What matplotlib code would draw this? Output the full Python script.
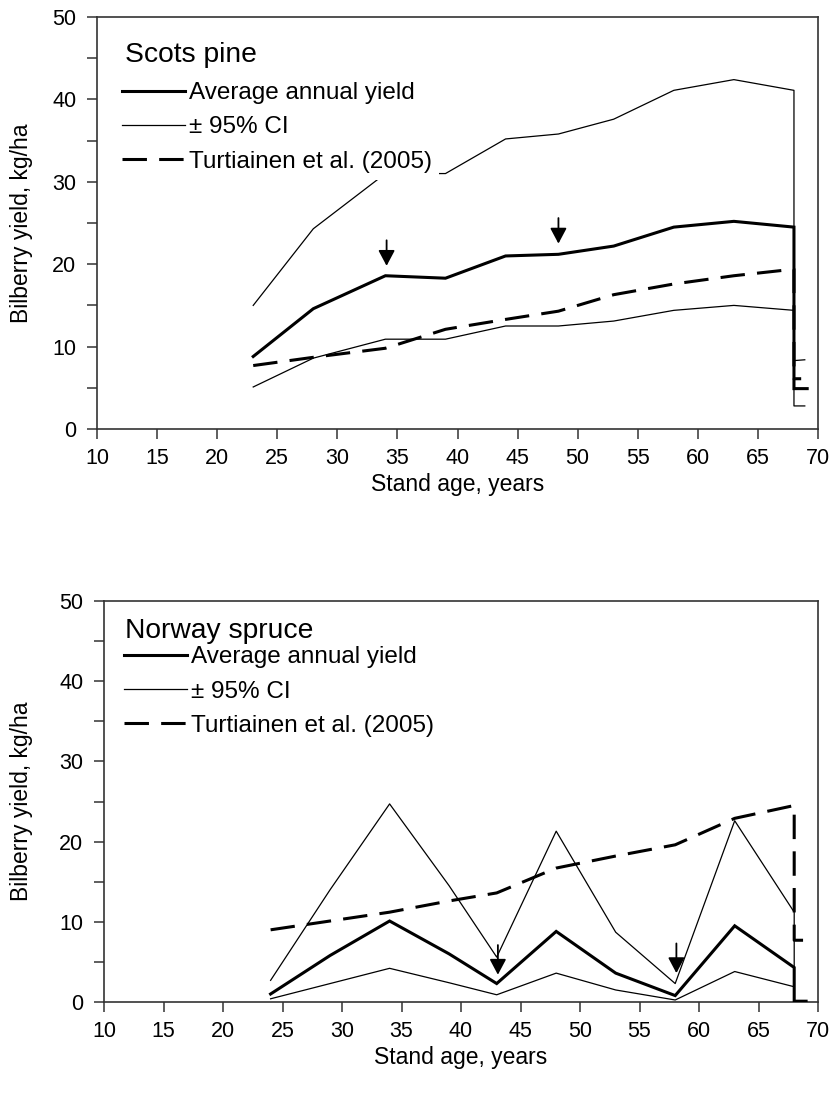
import matplotlib
matplotlib.use("Agg")
import matplotlib.pyplot as plt
from matplotlib.ticker import MultipleLocator

plt.rcParams['font.family'] = ['Liberation Sans', 'DejaVu Sans']

# ---------------- data: Scots pine ----------------
pine_age = [23, 28, 34, 39, 44, 48.4, 53, 58, 63, 68]
pine_mean = [8.8, 14.6, 18.6, 18.3, 21.0, 21.2, 22.2, 24.5, 25.2, 24.5]
pine_upper = [15.0, 24.3, 31.0, 31.0, 35.2, 35.8, 37.6, 41.1, 42.4, 41.1]
pine_lower = [5.1, 8.6, 10.9, 10.9, 12.5, 12.5, 13.1, 14.4, 15.0, 14.4]
pine_turt = [7.7, 8.7, 9.8, 12.1, 13.3, 14.3, 16.3, 17.6, 18.6, 19.4]
# trailing artefact segments at the right edge
pine_mean_tail_x, pine_mean_tail_y = [68, 69.1], [4.9, 4.9]
pine_upper_tail_x, pine_upper_tail_y = [68, 68.9], [2.8, 2.8]
pine_lower_tail_x, pine_lower_tail_y = [68, 68.9], [8.3, 8.4]
pine_turt_tail_x, pine_turt_tail_y = [68, 68.6], [6.1, 6.1]
pine_arrow_x = [34.1, 48.4]
pine_arrow_tip = [19.8, 22.5]
pine_arrow_top = [22.9, 25.6]

# ---------------- data: Norway spruce ----------------
spruce_age = [24, 29, 34, 39, 43, 48, 53, 58, 63, 68]
spruce_mean = [1.0, 5.8, 10.1, 6.0, 2.3, 8.8, 3.6, 0.8, 9.5, 4.3]
spruce_upper = [2.7, 14.0, 24.7, 14.5, 5.6, 21.3, 8.7, 2.3, 22.6, 11.2]
spruce_lower = [0.4, 2.3, 4.2, 2.4, 0.9, 3.6, 1.5, 0.25, 3.8, 1.9]
spruce_turt = [9.0, 10.1, 11.2, 12.6, 13.6, 16.7, 18.2, 19.6, 22.9, 24.5]
spruce_mean_tail_x, spruce_mean_tail_y = [68, 69], [0.1, 0.1]
spruce_upper_tail_x, spruce_upper_tail_y = [68], [0.1]
spruce_lower_tail_x, spruce_lower_tail_y = [68], [0.1]
spruce_turt_tail_x, spruce_turt_tail_y = [68, 69.2], [7.7, 7.7]
spruce_arrow_x = [43.1, 58.1]
spruce_arrow_tip = [3.4, 3.6]
spruce_arrow_top = [7.1, 7.3]

legend_labels = ["Average annual yield", "\u00b1 95% CI", "Turtiainen et al. (2005)"]

W, H = 832, 1094
fig = plt.figure(figsize=(W / 100, H / 100), dpi=100)

ax1 = fig.add_axes([97 / W, 1 - 429 / H, (818 - 97) / W, (429 - 17) / H])
ax2 = fig.add_axes([104 / W, 1 - 1002 / H, (818 - 104) / W, (1002 - 601) / H])

spine_col = '#333333'
THICK = 2.2
THIN = 0.9


def panel(ax, title, age, mean, upper, lower, turt, tails, arrows, title_pos, leg_pos):
    (mx, my), (ux, uy), (lx, ly), (tx, ty) = tails
    ax.plot(list(age) + mx, list(mean) + my, color='black', lw=THICK,
            solid_joinstyle='miter', label=legend_labels[0], zorder=3)
    ax.plot(list(age) + ux, list(upper) + uy, color='black', lw=THIN,
            label=legend_labels[1], zorder=2)
    ax.plot(list(age) + lx, list(lower) + ly, color='black', lw=THIN, zorder=2)
    ax.plot(list(age) + tx, list(turt) + ty, color='black', lw=THICK,
            dashes=(8, 4), label=legend_labels[2], zorder=2)
    for x, tip, top in zip(*arrows):
        ax.annotate('', xy=(x, tip), xytext=(x, top),
                    arrowprops=dict(arrowstyle='-|>,head_length=0.47,head_width=0.25',
                                    mutation_scale=20, lw=1.3, color='black',
                                    shrinkA=0, shrinkB=0), zorder=4)

    ax.set_xlim(10, 70)
    ax.set_ylim(0, 50)
    ax.xaxis.set_major_locator(MultipleLocator(5))
    ax.yaxis.set_major_locator(MultipleLocator(10))
    ax.yaxis.set_minor_locator(MultipleLocator(5))
    ax.tick_params(axis='both', which='both', direction='out', length=7,
                   width=1.1, color=spine_col, labelsize=15.5)
    ax.tick_params(axis='y', which='both', pad=8)
    ax.tick_params(axis='x', which='both', pad=7)
    for s in ax.spines.values():
        s.set_color(spine_col)
        s.set_linewidth(1.2)

    ax.set_xlabel("Stand age, years", fontsize=16.5)
    ax.set_ylabel("Bilberry yield, kg/ha", fontsize=16.5)

    leg = ax.legend(loc='upper left', bbox_to_anchor=leg_pos, borderaxespad=0,
                    fontsize=17.5, frameon=True, fancybox=False,
                    framealpha=1, facecolor='white', edgecolor='none',
                    handlelength=2.6, handletextpad=0.17, labelspacing=0.5,
                    borderpad=0.3)
    leg.set_zorder(5)
    ax.text(title_pos[0], title_pos[1], title, transform=ax.transAxes,
            fontsize=20.3, ha='left', va='center', zorder=6)
    return ax


panel(ax1, "Scots pine", pine_age, pine_mean, pine_upper, pine_lower, pine_turt,
      [(pine_mean_tail_x, pine_mean_tail_y), (pine_upper_tail_x, pine_upper_tail_y),
       (pine_lower_tail_x, pine_lower_tail_y), (pine_turt_tail_x, pine_turt_tail_y)],
      (pine_arrow_x, pine_arrow_tip, pine_arrow_top), (0.0388, 0.908), (0.0242, 0.8595))
panel(ax2, "Norway spruce", spruce_age, spruce_mean, spruce_upper, spruce_lower, spruce_turt,
      [(spruce_mean_tail_x, spruce_mean_tail_y), (spruce_upper_tail_x, spruce_upper_tail_y),
       (spruce_lower_tail_x, spruce_lower_tail_y), (spruce_turt_tail_x, spruce_turt_tail_y)],
      (spruce_arrow_x, spruce_arrow_tip, spruce_arrow_top), (0.029, 0.9255), (0.0173, 0.905))

ax1.xaxis.set_label_coords(0.5, -0.107)
ax2.xaxis.set_label_coords(0.5, -0.11)
ax1.yaxis.set_label_coords(-0.0888, 0.5)
ax2.yaxis.set_label_coords(-0.0994, 0.5)

fig.savefig("out.png", dpi=100)
